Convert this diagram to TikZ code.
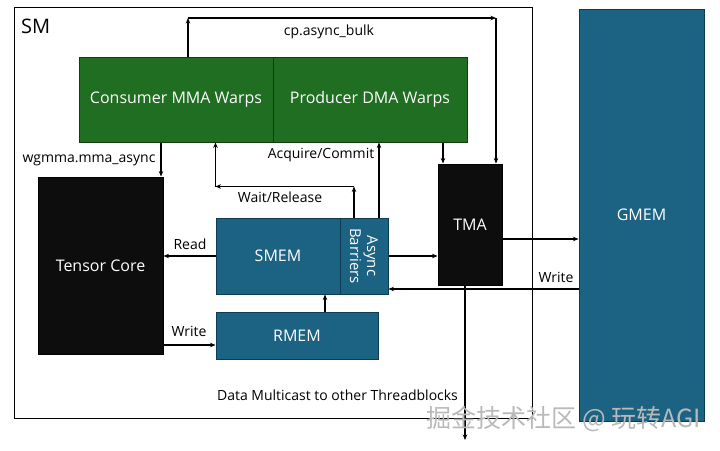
\documentclass[tikz,border=0pt]{standalone}
\usepackage{fontspec}
\setmainfont{Open Sans}
\newfontfamily\cjkfont{Noto Sans CJK SC}
\usetikzlibrary{arrows.meta}
\definecolor{warpgreen}{HTML}{1F6E21}
\definecolor{warpedge}{HTML}{0E3E10}
\definecolor{memblue}{HTML}{1C6383}
\definecolor{memedge}{HTML}{0D3B52}
\tikzset{
  greenbox/.style={draw=warpedge, fill=warpgreen, line width=1pt, text=white, font=\fontsize{16}{18}\selectfont, inner sep=0pt},
  bluebox/.style={draw=memedge, fill=memblue, line width=1pt, text=white, font=\fontsize{16}{18}\selectfont, inner sep=0pt},
  blackbox/.style={draw=black, fill=black!95, line width=1pt, text=white, font=\fontsize{16}{18}\selectfont, inner sep=0pt},
  arr/.style={draw=black, line width=1.1pt, -{Stealth[length=5.5pt,width=4.5pt]}},
  lbl/.style={font=\fontsize{14}{16}\selectfont, text=black, inner sep=0pt},
}
\begin{document}
\begin{tikzpicture}[x=1pt,y=-1pt]
\useasboundingbox (0,0) rectangle (720,450);
% SM frame
\node[draw=black, line width=1pt, fill=white, minimum width=517.5pt, minimum height=411pt, inner sep=0pt] (sm) at (273.25,212.5) {};
\node[anchor=west, font=\fontsize{20}{22}\selectfont, inner sep=0pt] (smlbl) at (21,26) {SM};
% boxes
\node[bluebox, minimum width=125pt, minimum height=412pt] (gmem) at (641.5,215) {GMEM};
\node[greenbox, minimum width=194pt, minimum height=85pt] (consumer) at (176,99.5) {Consumer MMA Warps};
\node[greenbox, minimum width=194pt, minimum height=85pt] (producer) at (370,99.5) {Producer DMA Warps};
\node[blackbox, minimum width=125pt, minimum height=177pt] (tensor) at (100.5,265.5) {Tensor Core};
\node[bluebox, minimum width=124pt, minimum height=76pt] (smem) at (278,256) {SMEM};
\node[bluebox, minimum width=48pt, minimum height=76pt] (barrier) at (364,256) {};
\node[text=white, rotate=-90, align=center, font=\fontsize{15}{17}\selectfont, inner sep=0pt] (barriertxt) at (364,256) {Async\\Barriers};
\node[bluebox, minimum width=162pt, minimum height=47pt] (rmem) at (297,335.5) {RMEM};
\node[blackbox, minimum width=64pt, minimum height=121pt] (tma) at (470,224.5) {TMA};
% helper coordinates
\coordinate (xwg) at (161,0);
\coordinate (xcp) at (188,0);
\coordinate (xcp2) at (496,0);
\coordinate (ycp) at (0,18);
\coordinate (xwr2) at (354,0);
\coordinate (ywr) at (0,186.5);
\coordinate (xac) at (379,0);
\coordinate (xpt) at (443,0);
\coordinate (xrm) at (325,0);
\coordinate (xtd) at (465,0);
\coordinate (ytd) at (0,440);
\coordinate (ytg) at (0,239);
\coordinate (ywg) at (0,289);
\coordinate (ywrite) at (0,345);
% connectors
\draw[arr] (consumer.north -| xcp) -- (ycp -| xcp);
\draw[arr] (ycp -| xcp) -- (ycp -| xcp2);
\draw[arr] (ycp -| xcp2) -- (tma.north -| xcp2);
\draw[arr] (consumer.south -| xwg) -- (tensor.north -| xwg);
\draw[arr] (barrier.north -| xwr2) -- (ywr -| xwr2);
\draw[arr] (ywr -| xwr2) -- (ywr -| smem.west);
\draw[arr] (ywr -| smem.west) -- (consumer.south -| smem.west);
\draw[arr] (barrier.north -| xac) -- (producer.south -| xac);
\draw[arr] (smem.west) -- (smem.west -| tensor.east);
\draw[arr] (barrier.east) -- (barrier.east -| tma.west);
\draw[arr] (producer.south -| xpt) -- (tma.north -| xpt);
\draw[arr] (tma.east |- ytg) -- (gmem.west |- ytg);
\draw[arr] (gmem.west |- ywg) -- (barrier.east |- ywg);
\draw[arr] (tma.south -| xtd) -- (ytd -| xtd);
\draw[arr] (rmem.north -| xrm) -- (smem.south -| xrm);
\draw[arr] (tensor.east |- ywrite) -- (rmem.west |- ywrite);
% labels
\node[lbl] (lcp) at (329,32) {cp.async\_bulk};
\node[lbl] (lwg) at (89,160) {wgmma.mma\_async};
\node[lbl] (lac) at (321,155) {Acquire/Commit};
\node[lbl] (lwr) at (280,197.5) {Wait/Release};
\node[lbl] (lread) at (190,244) {Read};
\node[lbl] (lwrite) at (189,331) {Write};
\node[lbl] (lwrite2) at (556,277) {Write};
\node[lbl] (ldm) at (337.5,395.5) {Data Multicast to other Threadblocks};
% watermark
\node[text=gray!55, font=\cjkfont\fontsize{25}{27}\selectfont, inner sep=0pt] (wm) at (564,419) {掘金技术社区 @ 玩转AGI};
\end{tikzpicture}
\end{document}
